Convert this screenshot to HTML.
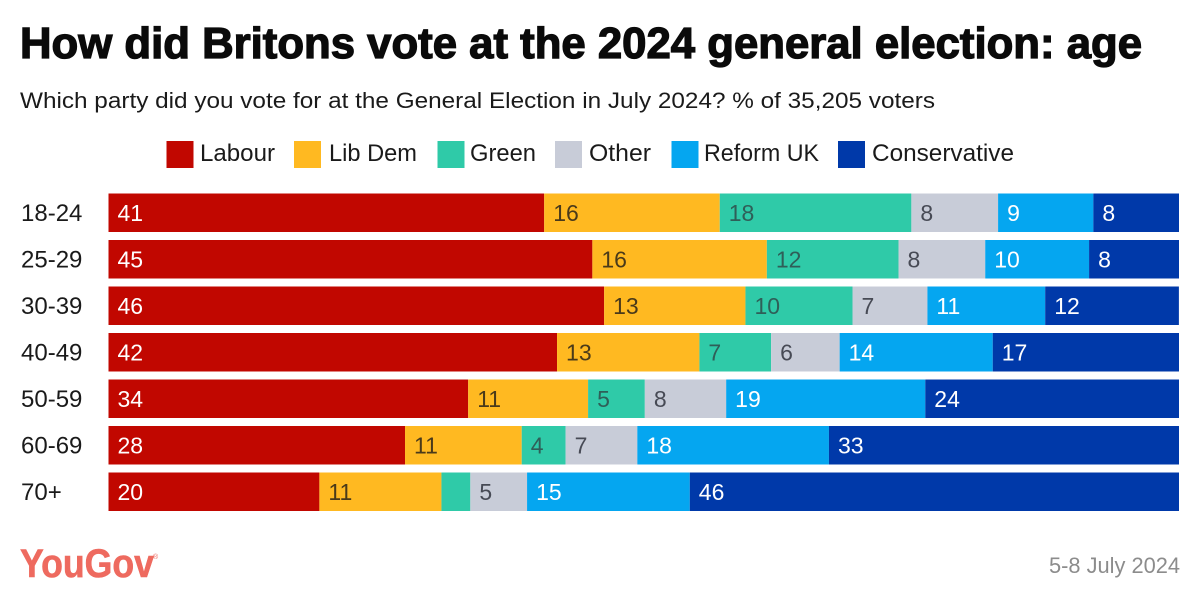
<!DOCTYPE html>
<html lang="en">
<head>
<meta charset="utf-8">
<title>How did Britons vote at the 2024 general election: age</title>
<style>
  html, body { margin: 0; padding: 0; background: #fff; }
  body { width: 1200px; height: 606px; overflow: hidden; }
  svg { display: block; font-family: "Liberation Sans", sans-serif; }
</style>
</head>
<body>
<svg id="chart" width="1200" height="606" viewBox="0 0 1200 606" xmlns="http://www.w3.org/2000/svg">
  <rect width="1200" height="606" fill="#ffffff"/>
  <text x="20" y="58" font-size="44" font-weight="700" fill="#0a0a0a" stroke="#0a0a0a" stroke-width="1.3" textLength="1122" lengthAdjust="spacingAndGlyphs">How did Britons vote at the 2024 general election: age</text>
  <text x="20" y="108" font-size="22.5" fill="#1a1a1a" textLength="915" lengthAdjust="spacingAndGlyphs">Which party did you vote for at the General Election in July 2024? % of 35,205 voters</text>

  <g font-size="24" fill="#1a1a1a">
    <rect x="166.5" y="141" width="27" height="27" fill="#c10700"/>
    <text x="200" y="161" textLength="75" lengthAdjust="spacingAndGlyphs">Labour</text>
    <rect x="294" y="141" width="27" height="27" fill="#ffb921"/>
    <text x="329" y="161" textLength="88" lengthAdjust="spacingAndGlyphs">Lib Dem</text>
    <rect x="437.5" y="141" width="27" height="27" fill="#2fcaa8"/>
    <text x="470" y="161" textLength="66" lengthAdjust="spacingAndGlyphs">Green</text>
    <rect x="555" y="141" width="27" height="27" fill="#c8ccd8"/>
    <text x="589" y="161" textLength="62" lengthAdjust="spacingAndGlyphs">Other</text>
    <rect x="671.5" y="141" width="27" height="27" fill="#05a6f0"/>
    <text x="704" y="161" textLength="115" lengthAdjust="spacingAndGlyphs">Reform UK</text>
    <rect x="838" y="141" width="27" height="27" fill="#0039a9"/>
    <text x="872" y="161" textLength="142" lengthAdjust="spacingAndGlyphs">Conservative</text>
  </g>

  <g id="bars"></g>

  <g>
    <text x="20" y="577" font-size="40" font-weight="700" fill="#ee6a5f" stroke="#ee6a5f" stroke-width="0.6" textLength="134" lengthAdjust="spacingAndGlyphs">YouGov</text>
    <text x="153" y="559" font-size="7" fill="#ee6a5f">®</text>
  </g>
  <text x="1049" y="573" font-size="22" fill="#8c8c8c" textLength="131" lengthAdjust="spacingAndGlyphs">5-8 July 2024</text>
</svg>

<script>
const categories = ["18-24", "25-29", "30-39", "40-49", "50-59", "60-69", "70+"];
const labour = [40.7, 45.2, 46.3, 41.9, 33.6, 27.7, 19.7];
const libDem = [16.4, 16.3, 13.2, 13.3, 11.2, 10.9, 11.4];
const green = [17.9, 12.3, 10.0, 6.7, 5.3, 4.1, 2.7];
const other = [8.1, 8.1, 7.0, 6.4, 7.6, 6.7, 5.3];
const reformUk = [8.9, 9.7, 11.0, 14.3, 18.6, 17.9, 15.2];
const conservative = [8.0, 8.4, 12.49, 17.4, 23.7, 32.7, 45.7];

const series = [
  { key: "labour", values: labour, fill: "#c10700", ink: "#ffffff" },
  { key: "lib-dem", values: libDem, fill: "#ffb921", ink: "#4a3a1a" },
  { key: "green", values: green, fill: "#2fcaa8", ink: "#2f5f58" },
  { key: "other", values: other, fill: "#c8ccd8", ink: "#474a55" },
  { key: "reform-uk", values: reformUk, fill: "#05a6f0", ink: "#ffffff" },
  { key: "conservative", values: conservative, fill: "#0039a9", ink: "#ffffff" }
];

const NS = "http://www.w3.org/2000/svg";
const plotLeft = 108.5, plotRight = 1179, plotTop = 193.5, rowStep = 46.5, barHeight = 38.5;
const minLabelled = 3;
const x = v => plotLeft + v * (plotRight - plotLeft) / 100;
const y = i => plotTop + i * rowStep;
const root = document.getElementById("bars");

categories.forEach((cat, i) => {
  const row = document.createElementNS(NS, "g");
  
  
  root.appendChild(row);

  const axisLabel = document.createElementNS(NS, "text");
  
  
  axisLabel.setAttribute("x", 21);
  axisLabel.setAttribute("y", y(i) + barHeight / 2 + 8);
  axisLabel.setAttribute("font-size", 24);
  axisLabel.setAttribute("fill", "#1a1a1a");
  axisLabel.textContent = cat;
  row.appendChild(axisLabel);

  let cum = 0;
  series.forEach(s => {
    const v = s.values[i];
    const x0 = x(cum), x1 = x(cum + v);
    const bar = document.createElementNS(NS, "rect");
    
    
    bar.setAttribute("x", x0);
    bar.setAttribute("y", y(i));
    bar.setAttribute("width", x1 - x0);
    bar.setAttribute("height", barHeight);
    bar.setAttribute("fill", s.fill);
    row.appendChild(bar);

    if (v >= minLabelled) {
      const label = document.createElementNS(NS, "text");
      
      
      label.setAttribute("x", x0 + 9);
      label.setAttribute("y", y(i) + barHeight / 2 + 8);
      label.setAttribute("font-size", 23);
      label.setAttribute("fill", s.ink);
      label.textContent = String(Math.round(v));
      row.appendChild(label);
    }
    cum += v;
  });
});
</script>
</body>
</html>
